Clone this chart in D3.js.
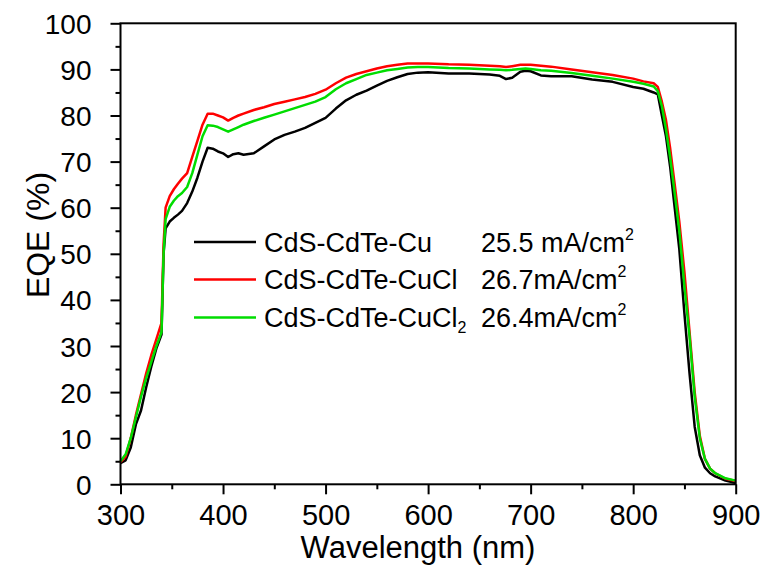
<!DOCTYPE html>
<html>
<head>
<meta charset="utf-8">
<script src="https://cdn.jsdelivr.net/npm/d3@7"></script>
<style>
html,body{margin:0;padding:0;background:#fff;}
svg{display:block;font-family:"Liberation Sans",Arial,sans-serif;}
</style>
</head>
<body>
<svg id="chart" width="767" height="566"></svg>
<script>
const wavelength = [300,305,310,315,320,325,330,335,340,342,344,348,352,356,360,365,370,375,380,385,390,395,400,405,410,415,420,430,440,450,460,470,480,490,500,510,520,530,540,550,560,570,580,590,600,620,640,660,670,676,682,690,695,700,710,720,740,760,780,800,810,820,824,828,832,836,840,845,850,855,860,865,870,875,880,890,900];

const eqeCu = [4.6,5.2,8,13,16,21,25.5,29.5,32.5,50,55.5,57,57.8,58.5,59.3,61,63.5,66.5,70,73,72.8,72.2,71.8,71,71.6,71.8,71.5,71.8,73.3,74.8,75.8,76.5,77.3,78.4,79.5,81.5,83.3,84.5,85.4,86.5,87.5,88.3,89,89.3,89.4,89.1,89.1,88.9,88.6,87.9,88.2,89.5,89.7,89.6,88.7,88.5,88.5,87.8,87.3,86.2,85.8,85,84.6,80,75.5,69,61,51,37,24,12.5,6.3,3.6,2.4,1.7,0.8,0.3];

const eqeCuCl = [4.8,6,10,15,19.5,24,28,31.5,35,52,60,62.5,64,65.2,66.3,67.5,71,74.5,78,80.4,80.4,80,79.6,78.9,79.5,80,80.4,81.2,81.8,82.5,83,83.5,84,84.7,85.6,87,88.2,89,89.6,90.2,90.7,91,91.3,91.3,91.3,91.1,91,90.8,90.7,90.5,90.7,91,91,91,90.8,90.6,90,89.4,88.8,88,87.4,87,86.2,83,79,73,66,57,46,33,20,10.5,5.5,3.4,2.4,1.2,0.7];

const eqeCuCl2 = [5,6.5,10,14.5,19,23,26.5,30,33,50,57.5,60.2,61.5,62.5,63.2,64.5,67.5,71.5,75.5,77.9,77.8,77.5,77,76.5,77,77.5,78,78.8,79.5,80.2,80.9,81.6,82.3,83,84,85.7,87,87.9,88.8,89.3,89.8,90.1,90.4,90.5,90.5,90.3,90.2,90,89.9,89.8,89.9,90.1,90.2,90.1,89.8,89.7,89.2,88.6,88,87.3,86.9,86.3,85.3,82,77,71,64,55,43,32,19,10,5.5,3.4,2.4,1.3,0.8];

const seriesNames = ["CdS-CdTe-Cu", "CdS-CdTe-CuCl", "CdS-CdTe-CuCl"];
const seriesSubs = ["", "", "2"];
const seriesJsc = ["25.5 mA/cm", "26.7mA/cm", "26.4mA/cm"];
const seriesColors = ["#000000", "#ff0000", "#00dd00"];
const xTicks = [300,400,500,600,700,800,900];
const yTicks = [0,10,20,30,40,50,60,70,80,90,100];

const svg = d3.select("#chart");
const L = 120.5, R = 735.7, T = 23.3, B = 484.3;
const x = d3.scaleLinear().domain([300,900]).range([L,R]);
const y = d3.scaleLinear().domain([0,100]).range([B,T]);

// minor ticks
const gMinor = svg.append("g");
gMinor.append("g").attr("transform",`translate(0,${B})`)
  .call(d3.axisBottom(x).tickValues(d3.range(350,900,100)).tickSize(5).tickFormat(""))
  .call(g=>g.select(".domain").remove())
  .call(g=>g.selectAll("line").attr("stroke","#000").attr("stroke-width",2));
gMinor.append("g").attr("transform",`translate(${L},0)`)
  .call(d3.axisLeft(y).tickValues(d3.range(5,100,10)).tickSize(5).tickFormat(""))
  .call(g=>g.select(".domain").remove())
  .call(g=>g.selectAll("line").attr("stroke","#000").attr("stroke-width",2));

// major axes
const xa = svg.append("g").attr("transform",`translate(0,${B})`)
  .call(d3.axisBottom(x).tickValues(xTicks).tickSize(10).tickSizeOuter(0).tickPadding(10).tickFormat(d3.format("d")));
xa.select(".domain").remove();
xa.selectAll("line").attr("stroke","#000").attr("stroke-width",2);
xa.selectAll("text").attr("font-size",29).attr("fill","#000").attr("font-family","Liberation Sans, Arial, sans-serif")
  .attr("dy",null).attr("y",41);

const ya = svg.append("g").attr("transform",`translate(${L},0)`)
  .call(d3.axisLeft(y).tickValues(yTicks).tickSize(10).tickSizeOuter(0).tickPadding(19).tickFormat(d3.format("d")));
ya.select(".domain").remove();
ya.selectAll("line").attr("stroke","#000").attr("stroke-width",2);
ya.selectAll("text").attr("font-size",28).attr("fill","#000").attr("font-family","Liberation Sans, Arial, sans-serif")
  .attr("dy","0.36em");

// data lines
const seriesData = [eqeCu, eqeCuCl, eqeCuCl2];
const line = d3.line().x((d,i)=>x(wavelength[i])).y(d=>y(d));
[0,1,2].forEach(k=>{
  svg.append("path").datum(seriesData[k])
    .attr("fill","none").attr("stroke",seriesColors[k]).attr("stroke-width",2.5)
    .attr("stroke-linejoin","round").attr("d",line);
});

// frame
svg.append("rect").attr("x",L).attr("y",T).attr("width",R-L).attr("height",B-T)
  .attr("fill","none").attr("stroke","#000").attr("stroke-width",2);

// axis titles
svg.append("text").attr("x",418).attr("y",558).attr("text-anchor","middle")
  .attr("font-size",31).attr("fill","#000").text("Wavelength (nm)");
svg.append("text").attr("transform","translate(49,235) rotate(-90)").attr("text-anchor","middle")
  .attr("font-size",32).attr("fill","#000").text("EQE (%)");

// legend
const legY = [242, 279.5, 317.5];
seriesNames.forEach((n,i)=>{
  svg.append("line").attr("x1",194).attr("x2",256).attr("y1",legY[i]).attr("y2",legY[i])
    .attr("stroke",seriesColors[i]).attr("stroke-width",2.5);
  const t = svg.append("text").attr("x",264).attr("y",legY[i]+9.5).attr("font-size",27).attr("fill","#000");
  t.append("tspan").text(n);
  if (seriesSubs[i]) t.append("tspan").attr("font-size",16).attr("dy",6).text(seriesSubs[i]);
  const t2 = svg.append("text").attr("x",481).attr("y",legY[i]+9.5).attr("font-size",27).attr("fill","#000");
  t2.append("tspan").text(seriesJsc[i]);
  t2.append("tspan").attr("font-size",16).attr("dy",-12).text("2");
});
</script>
</body>
</html>
